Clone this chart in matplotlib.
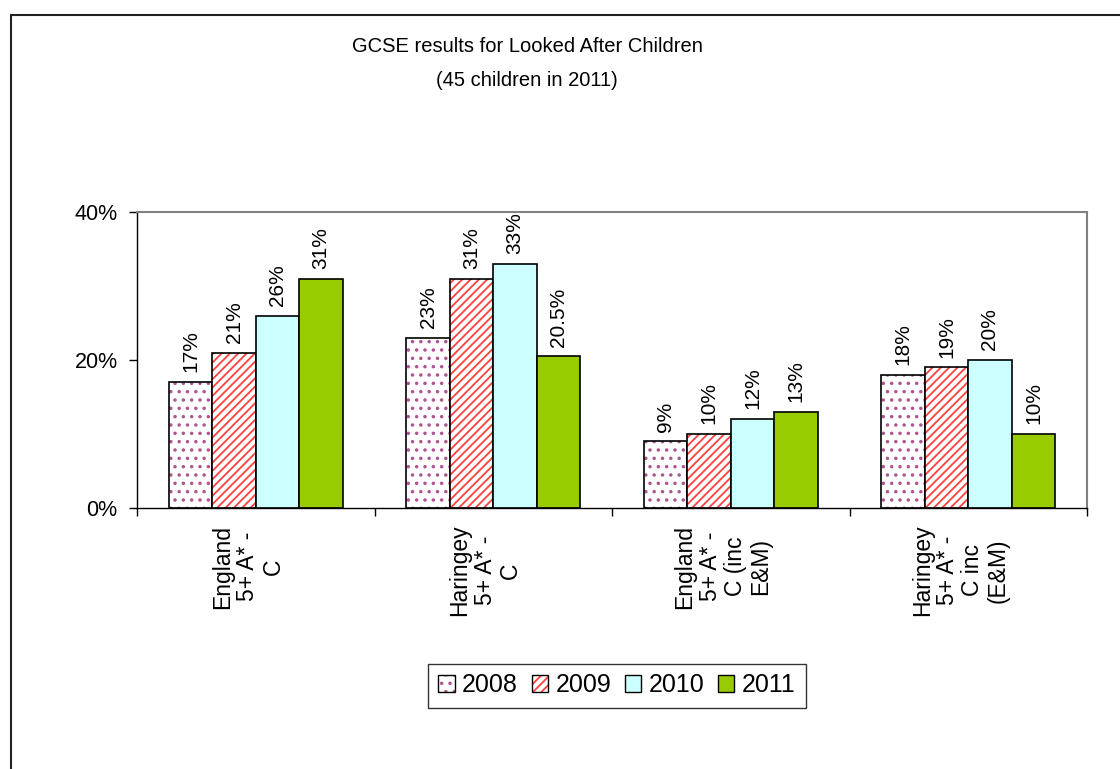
"""GCSE results for Looked After Children - grouped bar chart."""

import matplotlib
matplotlib.use("Agg")
import matplotlib.pyplot as plt
import matplotlib.transforms as mtransforms
from matplotlib.colors import to_rgba
from matplotlib.patches import Rectangle, Patch
import numpy as np

categories = [
    "England\n5+ A* -\nC",
    "Haringey\n5+ A* -\nC",
    "England\n5+ A* -\nC (inc\nE&M)",
    "Haringey\n5+ A* -\nC inc\n(E&M)",
]
years = ["2008", "2009", "2010", "2011"]
values = {
    "2008": [17, 23, 9, 18],
    "2009": [21, 31, 10, 19],
    "2010": [26, 33, 12, 20],
    "2011": [31, 20.5, 13, 10],
}
labels = {
    "2008": ["17%", "23%", "9%", "18%"],
    "2009": ["21%", "31%", "10%", "19%"],
    "2010": ["26%", "33%", "12%", "20%"],
    "2011": ["31%", "20.5%", "13%", "10%"],
}

# fill colour, hatch, hatch colour
styles = {
    "2008": ("white", "..", "#B05590"),
    "2009": ("white", "////", "#FF4040"),
    "2010": ("#CCFFFF", None, None),
    "2011": ("#99CC00", None, None),
}

plt.rcParams["font.family"] = ["Liberation Sans", "DejaVu Sans"]
plt.rcParams["hatch.linewidth"] = 1.3


def hatch_colour(patch, col):
    # keep the black outline but colour the hatch separately
    if hasattr(patch, "set_hatchcolor"):
        patch.set_hatchcolor(col)
    else:
        patch._hatch_color = to_rgba(col)


fig = plt.figure(figsize=(11.2, 7.69), dpi=100)
ax = fig.add_axes([137 / 1120, 1 - 508 / 769, (1087 - 137) / 1120, (508 - 212) / 769])

x = np.arange(len(categories))
w = 0.183
handles = []
for i, yr in enumerate(years):
    face, hatch, hcol = styles[yr]
    pos = x + (i - 1.5) * w
    bars = ax.bar(pos, values[yr], w, color=face, hatch=hatch, edgecolor="black",
                  linewidth=1.2, zorder=2)
    h = Patch(facecolor=face, hatch=hatch, edgecolor="black", linewidth=1.0)
    if hatch:
        for b in bars:
            hatch_colour(b, hcol)
    handles.append(h)
    for px, v, lab in zip(pos, values[yr], labels[yr]):
        ax.annotate(lab, (px, v), xytext=(0, 7), textcoords="offset points",
                    rotation=90, ha="center", va="bottom", fontsize=15)

ax.set_xlim(-0.5, 3.5)
ax.set_ylim(0, 40)
ax.set_yticks([0, 20, 40])
ax.set_yticklabels(["0%", "20%", "40%"], fontsize=15.5)
ax.tick_params(axis="y", direction="out", length=6, width=1, pad=8)

ax.set_xticks(np.arange(-0.5, 4, 1))
ax.set_xticklabels([])
ax.tick_params(axis="x", which="major", direction="out", length=6, width=1)
ax.set_xticks(x, minor=True)
ax.set_xticklabels(categories, minor=True, rotation=90, ha="center", va="top",
                   multialignment="center", fontsize=16.5, linespacing=1.12)
ax.tick_params(axis="x", which="minor", length=0, pad=12)
shift = mtransforms.ScaledTranslation(-0.08, 0, fig.dpi_scale_trans)
for t in ax.get_xticklabels(minor=True):
    t.set_transform(t.get_transform() + shift)

for s in ["left", "bottom"]:
    ax.spines[s].set_color("black")
    ax.spines[s].set_linewidth(1)
for s in ["top", "right"]:
    ax.spines[s].set_color("#808080")
    ax.spines[s].set_linewidth(1.5)

fig.text(527 / 1120, 1 - 47 / 769, "GCSE results for Looked After Children",
         ha="center", va="center", fontsize=14.5)
fig.text(527 / 1120, 1 - 80 / 769, "(45 children in 2011)",
         ha="center", va="center", fontsize=14.5)

leg = fig.legend(handles, years, loc="center", bbox_to_anchor=(617 / 1120, 1 - 685.5 / 769),
                 ncol=4, fontsize=18, frameon=True, fancybox=False, shadow=False,
                 handlelength=0.65, handleheight=0.65, handletextpad=0.3,
                 columnspacing=0.55, borderpad=0.4)
leg.get_frame().set_edgecolor("black")
leg.get_frame().set_linewidth(1)
for h, yr in zip(leg.legend_handles, years):
    if styles[yr][1]:
        hatch_colour(h, styles[yr][2])

fig.add_artist(Rectangle((11 / 1120, -0.1), 1.2, 1 - 15 / 769 + 0.1, transform=fig.transFigure,
                         fill=False, edgecolor="#222222", linewidth=1.5))

fig.savefig("out.png", dpi=100)
